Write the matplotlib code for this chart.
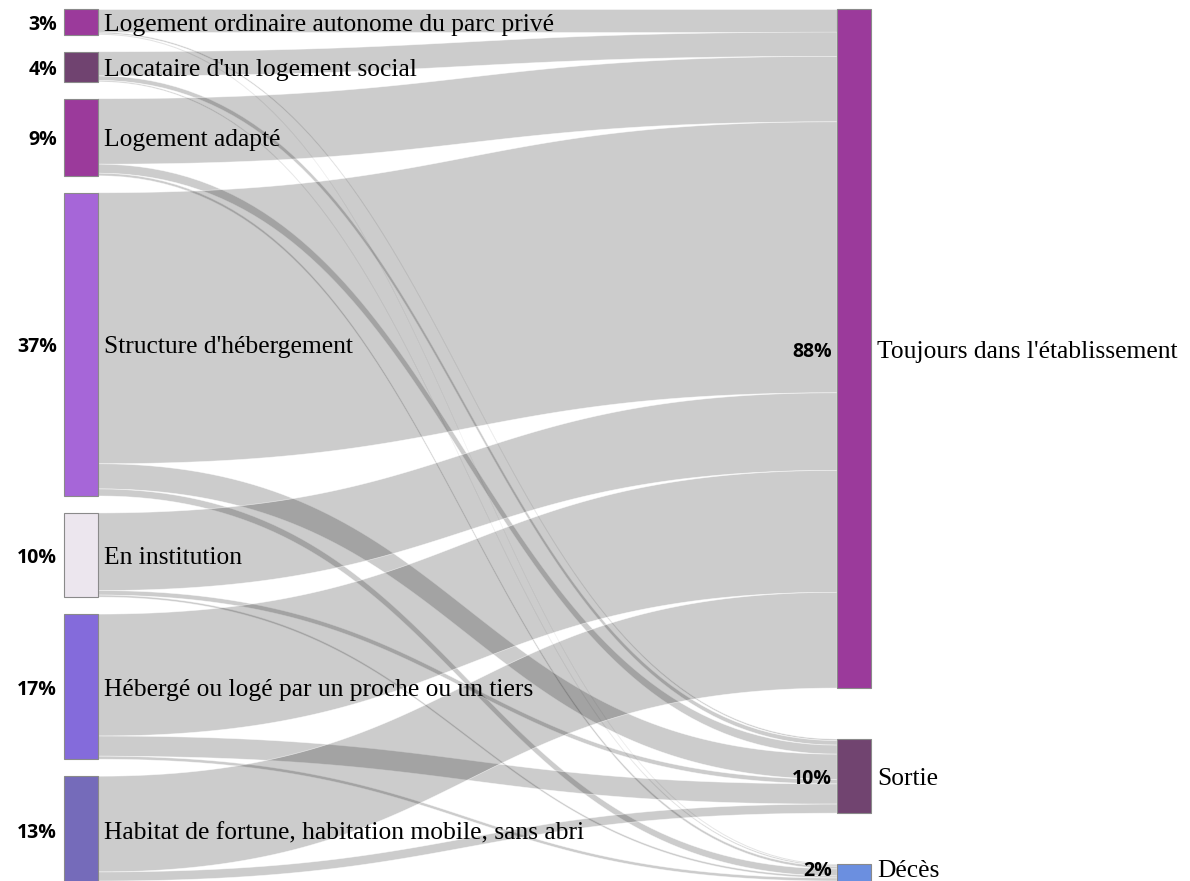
import numpy as np
import matplotlib.pyplot as plt
from matplotlib.patches import Rectangle, Polygon

# ── Données ───────────────────────────────────────────────────────────
sources = [
    "Logement ordinaire autonome du parc privé",
    "Locataire d'un logement social",
    "Logement adapté",
    "Structure d'hébergement",
    "En institution",
    "Hébergé ou logé par un proche ou un tiers",
    "Habitat de fortune, habitation mobile, sans abri",
]
source_pct = ["3%", "4%", "9%", "37%", "10%", "17%", "13%"]
source_colors = ["#9b3a9b", "#704370", "#9b3a9b", "#a666d8",
                 "#ece6ee", "#846bdb", "#756bba"]

targets = ["Toujours dans l'établissement", "Sortie", "Décès"]
target_pct = ["88%", "10%", "2%"]
target_colors = ["#9b3a9b", "#714470", "#6b8fe0"]

# flux (source -> cible), en % de l'ensemble
to_toujours = [3.0, 3.13, 8.47, 35.07, 10.04, 15.78, 12.39]
to_sortie = [0.2, 0.59, 1.17, 3.26, 0.59, 2.61, 1.17]
to_deces = [0.13, 0.16, 0.33, 0.91, 0.26, 0.39, 0.39]

flows = np.array([to_toujours, to_sortie, to_deces]).T  # (7 sources, 3 cibles)

# ── Mise en page ──────────────────────────────────────────────────────
W, H = 1190, 881
X_LEFT, X_RIGHT, NODE_W = 64, 837, 34
TOP, SPAN, PAD = 9, 875, 17
TXT_DY = 3  # léger décalage vertical des étiquettes

src_tot = flows.sum(axis=1)
tgt_tot = flows.sum(axis=0)
scale = (SPAN - PAD * (len(sources) - 1)) / src_tot.sum()
pad_right = (SPAN - tgt_tot.sum() * scale) / (len(targets) - 1)

src_y = TOP + np.concatenate([[0], np.cumsum(src_tot * scale + PAD)[:-1]])
tgt_y = TOP + np.concatenate([[0], np.cumsum(tgt_tot * scale + pad_right)[:-1]])

fig = plt.figure(figsize=(W / 100, H / 100), dpi=100)
ax = fig.add_axes([0, 0, 1, 1])
ax.set_xlim(0, W)
ax.set_ylim(H, 0)
ax.axis("off")


def bezier(x0, x1, y0, y1, n=80):
    t = np.linspace(0, 1, n)
    xm = (x0 + x1) / 2
    x = (1 - t)**3 * x0 + 3 * (1 - t)**2 * t * xm + 3 * (1 - t) * t**2 * xm + t**3 * x1
    y = (1 - t)**3 * y0 + 3 * (1 - t)**2 * t * y0 + 3 * (1 - t) * t**2 * y1 + t**3 * y1
    return x, y


# ── Liens : départs triés par cible, arrivées triées par source ───────
x0, x1 = X_LEFT + NODE_W, X_RIGHT
src_start = np.zeros_like(flows)
for i in range(len(sources)):
    off = src_y[i]
    for j in range(len(targets)):
        src_start[i, j] = off
        off += flows[i, j] * scale
tgt_start = np.zeros_like(flows)
for j in range(len(targets)):
    off = tgt_y[j]
    for i in range(len(sources)):
        tgt_start[i, j] = off
        off += flows[i, j] * scale

for i in range(len(sources)):
    for j in range(len(targets)):
        h = flows[i, j] * scale
        xt, yt = bezier(x0, x1, src_start[i, j], tgt_start[i, j])
        xb, yb = bezier(x0, x1, src_start[i, j] + h, tgt_start[i, j] + h)
        pts = np.column_stack([np.r_[xt, xb[::-1]], np.r_[yt, yb[::-1]]])
        ax.add_patch(Polygon(pts, closed=True, facecolor=(0, 0, 0, 0.2),
                             edgecolor=(1, 1, 1, 0.6), linewidth=0.5, zorder=1))

# ── Noeuds + étiquettes ───────────────────────────────────────────────
serif = ["Liberation Serif", "DejaVu Serif"]
for i, name in enumerate(sources):
    h = src_tot[i] * scale
    ax.add_patch(Rectangle((X_LEFT, src_y[i]), NODE_W, h, facecolor=source_colors[i],
                           edgecolor="#8a8a8a", linewidth=0.8, zorder=2))
    yc = min(src_y[i] + h / 2 + TXT_DY, H - 10)
    ax.text(X_LEFT + NODE_W + 6, yc, name, ha="left", va="center",
            fontsize=18.4, family=serif, color="black", zorder=3)
    ax.text(X_LEFT - 7, yc, source_pct[i], ha="right", va="center",
            fontsize=14, family="Open Sans", fontweight="bold", color="black", zorder=3)

for j, name in enumerate(targets):
    h = tgt_tot[j] * scale
    ax.add_patch(Rectangle((X_RIGHT, tgt_y[j]), NODE_W, h, facecolor=target_colors[j],
                           edgecolor="#8a8a8a", linewidth=0.8, zorder=2))
    yc = min(tgt_y[j] + h / 2 + TXT_DY, H - 10)
    ax.text(X_RIGHT + NODE_W + 6, yc, name, ha="left", va="center",
            fontsize=18.4, family=serif, color="black", zorder=3)
    ax.text(X_RIGHT - 5, yc, target_pct[j], ha="right", va="center",
            fontsize=14, family="Open Sans", fontweight="bold", color="black", zorder=3)

fig.savefig("out.png", dpi=100, facecolor="white")
